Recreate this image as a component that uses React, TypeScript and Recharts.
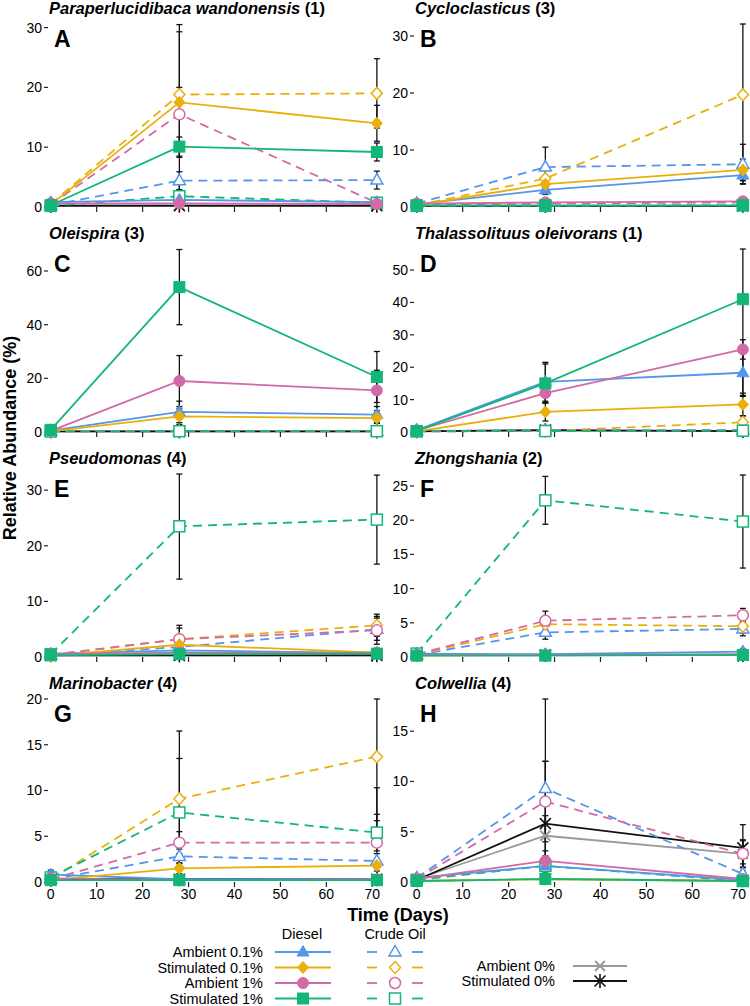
import React from "react";
import { LineChart, Line, XAxis, YAxis, ErrorBar, ReferenceArea } from "recharts";

const days = [0, 28, 71];
const xTicks = [0, 10, 20, 30, 40, 50, 60, 70];

// row order in every mean / error array:
// diesel  Ambient 0.1%, Stimulated 0.1%, Ambient 1%, Stimulated 1%
// crude   Ambient 0.1%, Stimulated 0.1%, Ambient 1%, Stimulated 1%
// control Ambient 0%, Stimulated 0%
const meanA = [
  [0.8, 1.2, 0.8], [0.4, 17.5, 14.0], [0.6, 0.6, 0.5], [0.3, 10.1, 9.2],
  [0.3, 4.4, 4.5], [0.5, 18.8, 19.0], [0.4, 15.5, 0.7], [0.2, 1.8, 0.7],
  [0.3, 0.3, 0.3], [0.2, 0.2, 0.2],
];
const errA = [
  [0.5, 1.0, 0.5], [0.2, 2.5, 3.0], [0.3, 0.4, 0.3], [0.2, 1.6, 1.5],
  [0.2, 1.5, 1.5], [0.3, 10.5, 5.8], [0.2, 15.0, 0.5], [0.1, 1.0, 0.5],
  [0.1, 0.2, 0.2], [0.1, 0.2, 0.2],
];
const meanB = [
  [0.5, 3.0, 5.6], [0.3, 4.0, 6.5], [0.6, 0.8, 1.0], [0.3, 0.3, 0.3],
  [0.6, 7.0, 7.5], [0.3, 5.0, 19.7], [0.3, 0.6, 0.8], [0.2, 0.2, 0.3],
  [0.2, 0.2, 0.2], [0.2, 0.2, 0.2],
];
const errB = [
  [0.4, 0.8, 1.5], [0.2, 1.2, 1.9], [0.3, 0.4, 0.6], [0.1, 0.2, 0.2],
  [0.4, 3.5, 3.5], [0.2, 1.5, 15.0], [0.2, 0.3, 0.4], [0.1, 0.1, 0.2],
  [0.1, 0.1, 0.1], [0.1, 0.1, 0.1],
];
const meanC = [
  [0.5, 7.5, 6.5], [0.2, 5.8, 5.2], [0.4, 19.0, 15.5], [0.8, 54.0, 20.5],
  [0.3, 0.3, 0.3], [0.2, 0.3, 0.3], [0.3, 0.4, 0.3], [0.2, 0.3, 0.3],
  [0.2, 0.2, 0.2], [0.2, 0.2, 0.2],
];
const errC = [
  [0.4, 4.0, 3.0], [0.2, 3.0, 2.0], [0.3, 9.5, 7.5], [0.5, 14.0, 9.5],
  [0.2, 0.3, 0.3], [0.1, 0.3, 0.3], [0.2, 0.3, 0.3], [0.1, 0.3, 0.3],
  [0.1, 0.2, 0.2], [0.1, 0.2, 0.2],
];
const meanD = [
  [0.6, 15.5, 18.3], [0.2, 6.2, 8.5], [0.5, 12.0, 25.5], [0.3, 15.0, 41.0],
  [0.4, 0.5, 0.6], [0.2, 0.3, 3.0], [0.3, 0.5, 0.5], [0.2, 0.3, 0.4],
  [0.3, 0.4, 0.3], [0.2, 0.6, 0.3],
];
const errD = [
  [0.5, 6.0, 7.0], [0.2, 2.8, 3.5], [0.3, 3.0, 3.0], [0.2, 6.0, 30.0],
  [0.2, 0.4, 0.4], [0.1, 0.2, 2.0], [0.2, 0.4, 0.4], [0.1, 0.2, 0.3],
  [0.1, 0.3, 0.2], [0.1, 0.4, 0.2],
];
const meanE = [
  [0.6, 1.2, 0.7], [0.2, 2.2, 0.8], [0.5, 0.8, 0.8], [0.3, 0.5, 0.6],
  [0.3, 1.8, 5.0], [0.3, 3.2, 5.7], [0.4, 3.2, 4.8], [0.5, 23.5, 24.7],
  [0.3, 0.3, 0.3], [0.3, 0.3, 0.3],
];
const errE = [
  [0.4, 0.6, 0.4], [0.1, 0.8, 0.4], [0.3, 0.5, 0.5], [0.2, 0.3, 0.3],
  [0.2, 1.0, 2.0], [0.2, 2.5, 2.0], [0.2, 2.0, 2.5], [0.2, 9.5, 8.0],
  [0.1, 0.2, 0.2], [0.1, 0.2, 0.2],
];
const meanF = [
  [0.5, 0.4, 0.8], [0.2, 0.3, 0.3], [0.3, 0.3, 0.4], [0.2, 0.2, 0.3],
  [0.3, 3.6, 4.1], [0.3, 4.8, 4.5], [0.4, 5.3, 6.1], [0.5, 22.9, 19.8],
  [0.3, 0.3, 0.3], [0.3, 0.3, 0.3],
];
const errF = [
  [0.3, 0.3, 0.4], [0.1, 0.2, 0.2], [0.2, 0.2, 0.2], [0.1, 0.1, 0.2],
  [0.1, 1.0, 1.0], [0.1, 1.0, 1.0], [0.2, 1.4, 1.0], [0.2, 3.5, 6.8],
  [0.1, 0.2, 0.2], [0.1, 0.2, 0.2],
];
const meanG = [
  [0.8, 0.3, 0.3], [0.2, 1.5, 1.8], [0.4, 0.2, 0.3], [0.2, 0.2, 0.2],
  [0.3, 2.8, 2.3], [0.3, 9.1, 13.7], [0.3, 4.3, 4.3], [0.5, 7.6, 5.4],
  [0.3, 0.3, 0.3], [0.3, 0.3, 0.3],
];
const errG = [
  [0.5, 0.3, 0.3], [0.1, 0.6, 0.6], [0.2, 0.2, 0.2], [0.1, 0.1, 0.1],
  [0.2, 0.8, 0.8], [0.2, 7.4, 7.0], [0.2, 1.2, 6.0], [0.2, 5.9, 2.0],
  [0.1, 0.2, 0.2], [0.1, 0.2, 0.2],
];
const meanH = [
  [0.4, 1.6, 0.2], [0.1, 0.3, 0.1], [0.3, 2.1, 0.3], [0.1, 0.3, 0.1],
  [0.4, 9.3, 0.8], [0.1, 0.3, 0.1], [0.3, 8.0, 2.8], [0.2, 1.6, 0.1],
  [0.3, 4.6, 2.8], [0.2, 5.8, 3.4],
];
const errH = [
  [0.2, 0.8, 0.2], [0.1, 0.2, 0.1], [0.1, 1.0, 0.2], [0.1, 0.2, 0.1],
  [0.2, 9.0, 1.0], [0.1, 0.2, 0.1], [0.2, 4.0, 1.3], [0.1, 0.6, 0.1],
  [0.1, 2.0, 1.4], [0.1, 6.2, 2.3],
];

const titles = [
  ["Paraperlucidibaca wandonensis", "(1)"],
  ["Cycloclasticus", "(3)"],
  ["Oleispira", "(3)"],
  ["Thalassolituus oleivorans", "(1)"],
  ["Pseudomonas", "(4)"],
  ["Zhongshania", "(2)"],
  ["Marinobacter", "(4)"],
  ["Colwellia", "(4)"],
];
const letters = ["A", "B", "C", "D", "E", "F", "G", "H"];
const yMaxes = [30.6, 32.1, 68.2, 56.5, 32.9, 26.75, 20, 18.2];
const yTickSets = [
  [0, 10, 20, 30],
  [0, 10, 20, 30],
  [0, 20, 40, 60],
  [0, 10, 20, 30, 40, 50],
  [0, 10, 20, 30],
  [0, 5, 10, 15, 20, 25],
  [0, 5, 10, 15, 20],
  [0, 5, 10, 15],
];
const means = [meanA, meanB, meanC, meanD, meanE, meanF, meanG, meanH];
const errs = [errA, errB, errC, errD, errE, errF, errG, errH];

const BLUE = "#5396EA";
const GOLD = "#E9B00B";
const PINK = "#D36AA8";
const GREEN = "#12B778";

type Shape = "tri" | "dia" | "circ" | "sq" | "x" | "ast";
type Series = { key: string; name: string; color: string; shape: Shape; dashed: boolean; hollow: boolean };

const series: Series[] = [
  { key: "a01d", name: "Ambient 0.1%", color: BLUE, shape: "tri", dashed: false, hollow: false },
  { key: "s01d", name: "Stimulated 0.1%", color: GOLD, shape: "dia", dashed: false, hollow: false },
  { key: "a1d", name: "Ambient 1%", color: PINK, shape: "circ", dashed: false, hollow: false },
  { key: "s1d", name: "Stimulated 1%", color: GREEN, shape: "sq", dashed: false, hollow: false },
  { key: "a01c", name: "Ambient 0.1%", color: BLUE, shape: "tri", dashed: true, hollow: true },
  { key: "s01c", name: "Stimulated 0.1%", color: GOLD, shape: "dia", dashed: true, hollow: true },
  { key: "a1c", name: "Ambient 1%", color: PINK, shape: "circ", dashed: true, hollow: true },
  { key: "s1c", name: "Stimulated 1%", color: GREEN, shape: "sq", dashed: true, hollow: true },
  { key: "a0", name: "Ambient 0%", color: "#999999", shape: "x", dashed: false, hollow: false },
  { key: "s0", name: "Stimulated 0%", color: "#111111", shape: "ast", dashed: false, hollow: false },
];
// controls first, then crude oil, diesel on top
const drawOrder = [8, 9, 4, 5, 6, 7, 0, 1, 2, 3];

function marker(s: Series, cx: number, cy: number, key?: any) {
  const fill = s.hollow ? "#fff" : s.color;
  const sw = s.hollow ? 1.5 : 1;
  if (s.shape === "tri")
    return (
      <polygon key={key} points={`${cx},${cy - 6.5} ${cx - 6},${cy + 4} ${cx + 6},${cy + 4}`}
        fill={fill} stroke={s.color} strokeWidth={sw} />
    );
  if (s.shape === "dia")
    return (
      <polygon key={key} points={`${cx},${cy - 6} ${cx + 5.5},${cy} ${cx},${cy + 6} ${cx - 5.5},${cy}`}
        fill={fill} stroke={s.color} strokeWidth={sw} />
    );
  if (s.shape === "circ")
    return <circle key={key} cx={cx} cy={cy} r={5.5} fill={fill} stroke={s.color} strokeWidth={sw} />;
  if (s.shape === "sq")
    return <rect key={key} x={cx - 5.5} y={cy - 5.5} width={11} height={11} fill={fill} stroke={s.color} strokeWidth={sw} />;
  if (s.shape === "x")
    return (
      <g key={key} stroke={s.color} strokeWidth={2}>
        <line x1={cx - 5} y1={cy - 5} x2={cx + 5} y2={cy + 5} />
        <line x1={cx - 5} y1={cy + 5} x2={cx + 5} y2={cy - 5} />
      </g>
    );
  return (
    <g key={key} stroke={s.color} strokeWidth={1.6}>
      <line x1={cx} y1={cy - 7} x2={cx} y2={cy + 7} />
      <line x1={cx - 5.5} y1={cy - 5.5} x2={cx + 5.5} y2={cy + 5.5} />
      <line x1={cx - 5.5} y1={cy + 5.5} x2={cx + 5.5} y2={cy - 5.5} />
    </g>
  );
}

const W = 333;
const H = 183;
const YW = 46;
const MT = 8;
const MR = 8;
const XH = 30;

function Panel({ idx }: { idx: number }) {
  const col = idx % 2;
  const row = Math.floor(idx / 2);
  const plotLeft = col === 0 ? 48 : 414;
  const plotTop = 24 + row * 225;
  const yMax = yMaxes[idx];
  const data = days.map((d, i) => {
    const r: any = { day: d };
    series.forEach((s, si) => {
      const v = means[idx][si][i];
      const e = errs[idx][si][i];
      r[s.key] = v;
      r[s.key + "_e"] = [Math.min(e, v), Math.min(e, yMax - v)];
    });
    return r;
  });
  const bottom = row === 3;
  return (
    <div style={{ position: "absolute", left: plotLeft - YW, top: plotTop - MT }}>
      <LineChart width={YW + W + MR} height={MT + H + XH} data={data}
        margin={{ top: MT, right: MR, left: 0, bottom: 0 }}>
        <XAxis type="number" dataKey="day" domain={[-0.6, 71.9]} ticks={xTicks} interval={0}
          height={XH} axisLine={false} tickSize={5} tickMargin={2}
          tickLine={{ stroke: "#222", strokeWidth: 1.2 }}
          tick={{ fontSize: 14, fill: "#000" }}
          tickFormatter={(v: number) => (bottom ? String(v) : "")} />
        <YAxis type="number" domain={[0, yMax]} ticks={yTickSets[idx]} interval={0}
          width={YW} axisLine={false} tickSize={4} tickMargin={2}
          tickLine={{ stroke: "#222", strokeWidth: 1.2 }}
          tick={{ fontSize: 14, fill: "#000" }} />
        {drawOrder.map((si) => {
          const s = series[si];
          return (
            <Line key={s.key} type="linear" dataKey={s.key} stroke={s.color} strokeWidth={1.8}
              strokeDasharray={s.dashed ? "9 6" : undefined} isAnimationActive={false}
              activeDot={false}
              dot={(p: any) => marker(s, p.cx, p.cy, `${s.key}-${p.index}`)}>
              <ErrorBar dataKey={s.key + "_e"} direction="y" width={3} stroke="#111"
                strokeWidth={1.3} isAnimationActive={false} />
            </Line>
          );
        })}
        <ReferenceArea fill="none" fillOpacity={0} stroke="#222" strokeWidth={1.6} ifOverflow="visible" />
      </LineChart>
    </div>
  );
}

const FONT = "'Liberation Sans', Arial, sans-serif";

function Overlay() {
  const legendRows = [952, 967.5, 983, 998.5];
  return (
    <svg width={750} height={1006} style={{ position: "absolute", left: 0, top: 0, pointerEvents: "none" }}
      fontFamily={FONT}>
      {titles.map((t, i) => {
        const col = i % 2;
        const row = Math.floor(i / 2);
        const x = col === 0 ? 49 : 415;
        const y = 14 + row * 225;
        return (
          <text key={i} x={x} y={y} fontSize={16.5} fontWeight="bold" fill="#000">
            <tspan fontStyle="italic">{t[0]}</tspan>
            <tspan> {t[1]}</tspan>
          </text>
        );
      })}
      {letters.map((l, i) => {
        const col = i % 2;
        const row = Math.floor(i / 2);
        const x = (col === 0 ? 48 : 414) + 6;
        const y = 24 + row * 225 + 23;
        return (
          <text key={l} x={x} y={y} fontSize={23} fontWeight="bold" fill="#000">{l}</text>
        );
      })}
      <text x={10} y={438} transform="rotate(-90 10 438)" textAnchor="middle" dominantBaseline="central"
        fontSize={18} fontWeight="bold">Relative Abundance (%)</text>
      <text x={398} y={921} textAnchor="middle" fontSize={18} fontWeight="bold">Time (Days)</text>
      <text x={302} y={939} textAnchor="middle" fontSize={14.5}>Diesel</text>
      <text x={395} y={939} textAnchor="middle" fontSize={14.5}>Crude Oil</text>
      {[0, 1, 2, 3].map((i) => {
        const d = series[i];
        const c = series[i + 4];
        const y = legendRows[i];
        return (
          <g key={i}>
            <text x={263} y={y + 5} textAnchor="end" fontSize={14.5}>{d.name}</text>
            <line x1={275} y1={y} x2={331} y2={y} stroke={d.color} strokeWidth={1.8} />
            {marker(d, 303, y)}
            <line x1={367} y1={y} x2={377} y2={y} stroke={c.color} strokeWidth={1.8} />
            <line x1={412} y1={y} x2={423} y2={y} stroke={c.color} strokeWidth={1.8} />
            {marker(c, 395, y)}
          </g>
        );
      })}
      {[8, 9].map((si, i) => {
        const s = series[si];
        const y = i === 0 ? 966 : 981;
        return (
          <g key={si}>
            <text x={555} y={y + 5} textAnchor="end" fontSize={14.5}>{s.name}</text>
            <line x1={573} y1={y} x2={627} y2={y} stroke={s.color} strokeWidth={1.8} />
            {marker(s, 600, y)}
          </g>
        );
      })}
    </svg>
  );
}

export default function App() {
  return (
    <div style={{ position: "absolute", left: 0, top: 0, width: 750, height: 1006, background: "#fff", fontFamily: FONT }}>
      {letters.map((_, i) => (
        <Panel key={i} idx={i} />
      ))}
      <Overlay />
    </div>
  );
}
